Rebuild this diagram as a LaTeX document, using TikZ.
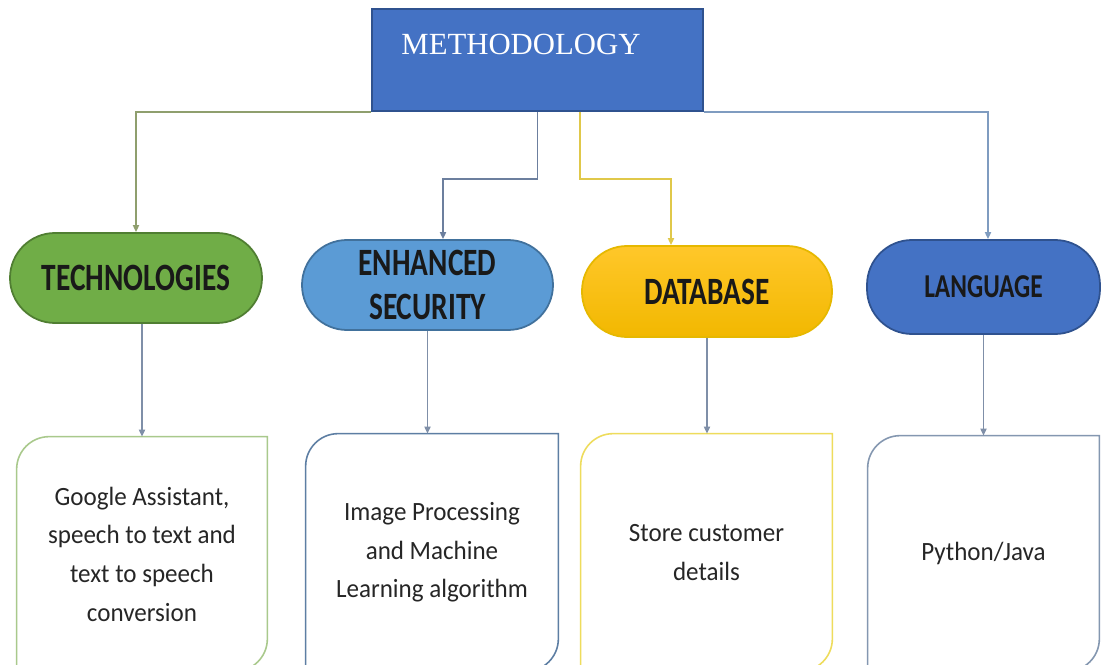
\documentclass[tikz,border=0pt]{standalone}
\usepackage{fontspec}
\newfontfamily\headfont{Liberation Serif}
\newfontfamily\pillfont[FakeStretch=0.76]{Carlito}
\newfontfamily\cardfont[FakeStretch=0.95]{Carlito}
\usetikzlibrary{arrows.meta}

\definecolor{methfill}{HTML}{4472C4}
\definecolor{methline}{HTML}{2F528F}
\definecolor{techfill}{HTML}{70AD47}
\definecolor{techline}{HTML}{507E32}
\definecolor{secfill}{HTML}{5B9BD5}
\definecolor{secline}{HTML}{41719C}
\definecolor{dbtop}{HTML}{FFC72A}
\definecolor{dbbottom}{HTML}{F2B800}
\definecolor{dbline}{HTML}{E6B800}
\definecolor{techlink}{HTML}{8F9F6E}
\definecolor{seclink}{HTML}{6C7F9E}
\definecolor{dblink}{HTML}{E0C84A}
\definecolor{langlink}{HTML}{7F9CC0}
\definecolor{droplink}{HTML}{7F8FA8}
\definecolor{cardgreen}{HTML}{A9C98C}
\definecolor{cardblue}{HTML}{5D7EA3}
\definecolor{cardyellow}{HTML}{EEDC5C}
\definecolor{cardgrey}{HTML}{8497B0}

% frame with round top-left and bottom-right corners
\newcommand{\cardframe}[2]{%
  \draw[#2, line width=0.9pt] (#1.south west)
    -- ([yshift=-0.65cm]#1.north west) arc[start angle=180, end angle=90, radius=0.65cm]
    -- (#1.north east)
    -- ([yshift=0.65cm]#1.south east) arc[start angle=0, end angle=-90, radius=0.65cm]
    -- cycle;}

\begin{document}
\begin{tikzpicture}[
    pill/.style={draw, line width=1pt, rounded corners=0.9cm, minimum height=1.8cm,
      inner sep=0pt, align=center, text=black!90,
      font=\pillfont\bfseries\fontsize{22}{25}\selectfont},
    card/.style={minimum height=4.74cm, align=center, text=black!85,
      font=\cardfont\fontsize{15}{22}\selectfont},
    link/.style={line width=0.8pt, -{Triangle[length=4pt,width=3.5pt]}}]
  \useasboundingbox[fill=white] (0,0) rectangle (22.04,13.3);
  % Top box
  \node[draw=methline, fill=methfill, line width=1pt, minimum width=6.62cm,
    minimum height=2.04cm] (meth) at (10.75,12.10) {};
  \node[text=white, font=\headfont\fontsize{17.5}{20}\selectfont] (methname)
    at (10.42,12.42) {METHODOLOGY};
  % Branches
  \node[pill, fill=techfill, draw=techline, minimum width=5.04cm] (tech)
    at (2.72,7.74) {TECHNOLOGIES};
  \node[pill, fill=secfill, draw=secline, minimum width=5.02cm] (sec)
    at (8.55,7.60) {ENHANCED\\SECURITY};
  \node[pill, top color=dbtop, bottom color=dbbottom, draw=dbline, minimum width=5.0cm,
    minimum height=1.82cm] (db) at (14.14,7.47) {DATABASE};
  \node[pill, fill=methfill, draw=methline, minimum width=4.66cm, minimum height=1.88cm,
    font=\pillfont\bfseries\fontsize{19}{22}\selectfont] (lang)
    at (19.67,7.56) {LANGUAGE};
  % Details
  \node[card, minimum width=5.0cm, minimum height=4.68cm] (techcard) at (2.84,2.22)
    {Google Assistant,\\speech to text and\\text to speech\\conversion};
  \node[card, minimum width=5.04cm] (seccard) at (8.64,2.25)
    {Image Processing\\and Machine\\Learning algorithm};
  \node[card, minimum width=5.02cm] (dbcard) at (14.13,2.25)
    {Store customer\\details};
  \node[card, minimum width=4.62cm, minimum height=4.70cm] (langcard) at (19.67,2.23)
    {Python/Java};
  \cardframe{techcard}{cardgreen}
  \cardframe{seccard}{cardblue}
  \cardframe{dbcard}{cardyellow}
  \cardframe{langcard}{cardgrey}
  % Connectors
  \draw[link, draw=techlink] (meth.south west) -| (tech.north);
  \draw[link, draw=seclink] (meth.south) -- ++(0,-1.34) -| ([xshift=0.31cm]sec.north);
  \draw[link, draw=dblink] ([xshift=0.85cm]meth.south) -- ++(0,-1.34)
    -| ([xshift=-0.72cm]db.north);
  \draw[link, draw=langlink] (meth.south east) -| ([xshift=0.09cm]lang.north);
  \draw[link, draw=droplink] (tech.south -| techcard.north) -- (techcard.north);
  \draw[link, draw=droplink] (sec.south) -- (sec.south |- seccard.north);
  \draw[link, draw=droplink] (db.south) -- (db.south |- dbcard.north);
  \draw[link, draw=droplink] (lang.south) -- (lang.south |- langcard.north);
\end{tikzpicture}
\end{document}
